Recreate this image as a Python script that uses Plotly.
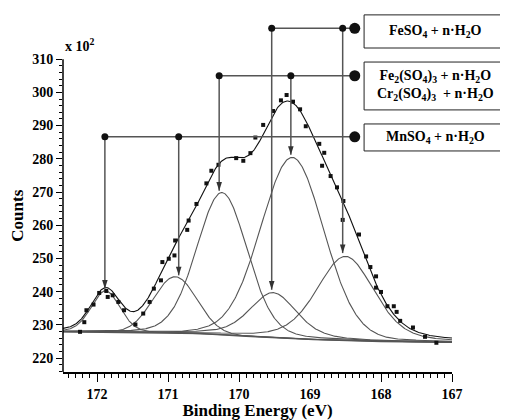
import numpy as np
import plotly.graph_objects as go

# ---- measured spectrum (binding energy eV, counts x100) ----
be_data = [172.24, 172.18, 172.15, 172.05, 171.97, 171.87, 171.85, 171.78, 171.70, 171.62,
           171.46, 171.35, 171.26, 171.20, 171.10, 171.08, 170.99, 170.91, 170.90, 170.73,
           170.71, 170.60, 170.46, 170.39, 170.29, 170.04, 169.94, 169.84, 169.77, 169.66,
           169.52, 169.41, 169.33, 169.24, 169.14, 169.06, 168.87, 168.80, 168.83, 168.71,
           168.62, 168.53, 168.54, 168.31, 168.21, 168.15, 168.07, 168.07, 168.00, 167.91,
           167.82, 167.78, 167.73, 167.55, 167.38, 167.22]
counts_data = [227.9, 230.8, 234.4, 236.1, 239.6, 240.2, 238.4, 238.9, 236.9, 234.4,
               230.1, 233.4, 236.9, 240.9, 243.4, 248.9, 249.9, 250.9, 255.4, 258.6,
               261.4, 266.4, 272.6, 276.4, 278.2, 280.2, 279.4, 281.7, 286.4, 290.2,
               294.4, 297.6, 299.2, 297.2, 294.9, 289.8, 284.5, 281.8, 277.9, 274.8,
               271.4, 267.3, 261.6, 257.2, 250.6, 247.4, 244.6, 241.2, 239.9, 235.6,
               235.6, 233.9, 231.2, 229.2, 226.4, 224.6]

# ---- fitted components ----
peak_centers = [171.88, 170.90, 170.24, 169.52, 169.25, 168.50]
peak_heights = [12.5, 17.0, 42.8, 13.5, 54.5, 25.3]
peak_fwhm = [0.48, 0.72, 0.84, 0.78, 1.05, 0.95]
peak_lor = [0.2, 0.0, 0.15, 0.4, 0.1, 0.3]

baseline_be = [172.48, 170.55, 169.90, 168.95, 168.00, 167.00]
baseline_counts = [227.9, 227.4, 226.6, 225.6, 225.0, 224.8]

# ---- assignment markers ----
species_labels = [
    "FeSO<sub>4</sub> + n·H<sub>2</sub>O",
    "Fe<sub>2</sub>(SO<sub>4</sub>)<sub>3</sub> + n·H<sub>2</sub>O<br>Cr<sub>2</sub>(SO<sub>4</sub>)<sub>3</sub>  + n·H<sub>2</sub>O",
    "MnSO<sub>4</sub> + n·H<sub>2</sub>O",
]
marker_levels = [319.3, 305.0, 286.6]
marker_be = [[169.54, 168.54], [170.28, 169.27], [171.89, 170.85]]
marker_tips = [[240.6, 251.6], [270.4, 281.2], [240.9, 244.9]]
line_end_be = 168.37

y_ticks = list(range(220, 311, 10))
y_minor = [v for v in range(216, 311, 2) if v % 10 != 0]
x_ticks = [172, 171, 170, 169, 168, 167]

x_range = [172.48, 167.0]
y_range = [215.8, 324.2]
y_axis_top = 310

SERIF = "Liberation Serif"
GREY = "#555555"

xs = np.linspace(x_range[0], x_range[1], 600)
base = np.interp(xs, baseline_be[::-1], baseline_counts[::-1])


def component(c, h, w, m):
    d = xs - c
    g = np.exp(-4 * np.log(2) * d ** 2 / w ** 2)
    l = 1.0 / (1.0 + 4 * d ** 2 / w ** 2)
    return h * ((1 - m) * g + m * l)


fig = go.Figure()
total = np.zeros_like(xs)
for c, h, w, m in zip(peak_centers, peak_heights, peak_fwhm, peak_lor):
    comp = component(c, h, w, m)
    total += comp
    fig.add_trace(go.Scatter(x=xs, y=base + comp, mode="lines",
                             line=dict(color=GREY, width=1.1), hoverinfo="skip"))

fig.add_trace(go.Scatter(x=baseline_be, y=baseline_counts, mode="lines",
                         line=dict(color=GREY, width=1.6), hoverinfo="skip"))
fig.add_trace(go.Scatter(x=xs, y=base + total, mode="lines",
                         line=dict(color="#111111", width=1.1), hoverinfo="skip"))
fig.add_trace(go.Scatter(x=be_data, y=counts_data, mode="markers",
                         marker=dict(symbol="square", size=4, color="#111111")))

# connector lines, arrows and dots
lx, ly = [], []
tip_x, tip_y, dot_x, dot_y, big_x, big_y = [], [], [], [], [], []
for level, bes, tips in zip(marker_levels, marker_be, marker_tips):
    lx += [bes[0], line_end_be, None]
    ly += [level, level, None]
    for b, t in zip(bes, tips):
        lx += [b, b, None]
        ly += [level, t, None]
        tip_x.append(b)
        tip_y.append(t)
        dot_x.append(b)
        dot_y.append(level)
    big_x.append(line_end_be)
    big_y.append(level)

fig.add_trace(go.Scatter(x=lx, y=ly, mode="lines", line=dict(color=GREY, width=1.5),
                         hoverinfo="skip"))
fig.add_trace(go.Scatter(x=tip_x, y=tip_y, mode="markers",
                         marker=dict(symbol="arrow", angle=180, size=9, color="#333333",
                                     line=dict(width=0))))
fig.add_trace(go.Scatter(x=dot_x, y=dot_y, mode="markers",
                         marker=dict(size=7, color="#111111")))
fig.add_trace(go.Scatter(x=big_x, y=big_y, mode="markers", cliponaxis=False,
                         marker=dict(size=11, color="#111111")))

# label boxes (paper coords)
boxes = [(0.774, 1.141, 0.900, 0.992), (0.774, 1.141, 0.728, 0.861), (0.774, 1.141, 0.614, 0.689)]
shapes = [dict(type="line", xref="paper", yref="y", x0=0, x1=0, y0=y_range[0], y1=y_axis_top,
               line=dict(color="black", width=1.5))]
annotations = []
for (x0, x1, y0, y1), lab in zip(boxes, species_labels):
    shapes.append(dict(type="rect", xref="paper", yref="paper", x0=x0, x1=x1, y0=y0, y1=y1,
                       line=dict(color="#222222", width=1), fillcolor="white"))
    annotations.append(dict(x=(x0 + x1) / 2, y=(y0 + y1) / 2, xref="paper", yref="paper",
                            xanchor="center", yanchor="middle",
                            text=lab, showarrow=False, align="center",
                            font=dict(family=SERIF, size=14, color="black", weight="bold")))

annotations.append(dict(x=0.0, y=314.4, xref="paper", yref="y", xanchor="left",
                        yanchor="middle", text="x 10<sup>2</sup>", showarrow=False,
                        font=dict(family=SERIF, size=14, color="black", weight="bold")))
annotations.append(dict(x=-0.118, y=(y_range[0] + y_axis_top) / 2, xref="paper", yref="y",
                        xanchor="center", yanchor="middle", textangle=-90,
                        text="Counts", showarrow=False,
                        font=dict(family=SERIF, size=17, color="black", weight="bold")))

fig.update_layout(
    width=500, height=412,
    margin=dict(l=55, r=56, t=4, b=48, autoexpand=False),
    plot_bgcolor="white", paper_bgcolor="white",
    showlegend=False,
    shapes=shapes,
    annotations=annotations,
    xaxis=dict(range=x_range, tickvals=x_ticks, automargin=False,
               ticks="outside", ticklen=8, tickwidth=1.2, tickcolor="black",
               minor=dict(dtick=0.1, ticks="outside", ticklen=4, tickcolor="black", tick0=167),
               showline=True, linecolor="black", linewidth=1.5, showgrid=False, zeroline=False,
               tickfont=dict(family=SERIF, size=14, color="black", weight="bold"),
               title=dict(text="Binding Energy (eV)", standoff=2,
                          font=dict(family=SERIF, size=17, color="black", weight="bold"))),
    yaxis=dict(range=y_range, tickvals=y_ticks, automargin=False,
               ticks="outside", ticklen=6, tickwidth=1.2, tickcolor="black",
               minor=dict(tickvals=y_minor, ticks="outside", ticklen=3, tickcolor="black"),
               showline=False, showgrid=False, zeroline=False,
               tickfont=dict(family=SERIF, size=14, color="black", weight="bold")),
)

fig.write_html("out.html")
